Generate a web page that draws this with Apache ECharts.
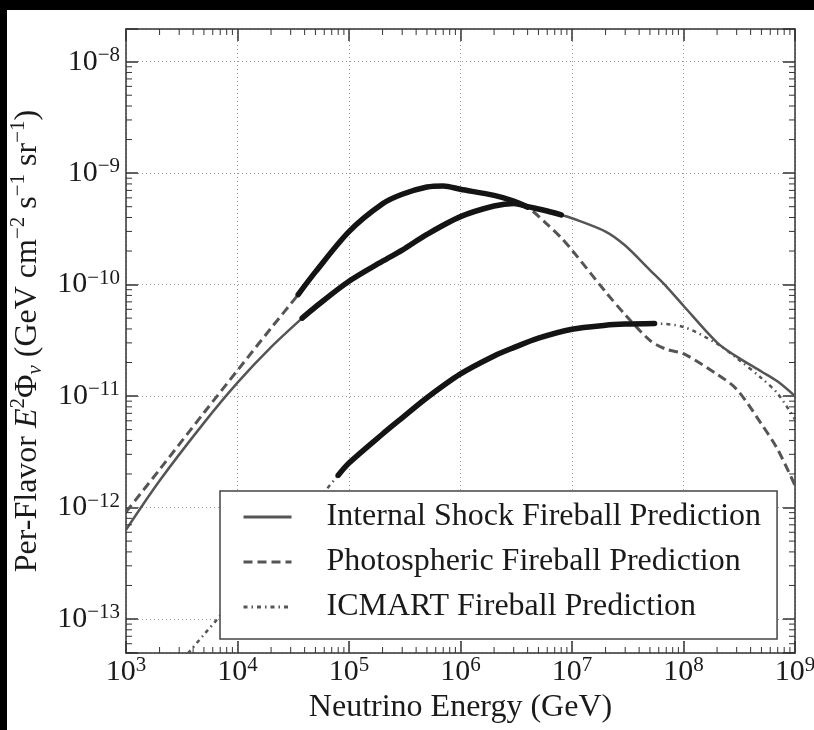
<!DOCTYPE html>
<html>
<head>
<meta charset="utf-8">
<script src="https://cdn.jsdelivr.net/npm/echarts@6/dist/echarts.min.js"></script>
<style>
  html, body { margin: 0; padding: 0; background: #000; }
  #chart { position: absolute; left: 7px; top: 10px; width: 807px; height: 720px; background: #fff; }
</style>
</head>
<body>
<div id="chart"></div>
<script>
// Neutrino energy (GeV) and per-flavor E^2 Phi (GeV cm^-2 s^-1 sr^-1) for each fireball model
const isEnergy = [1e3, 2e3, 5e3, 1e4, 2e4, 3.8e4, 5e4, 1e5, 2e5, 3e5, 5e5, 1e6, 2e6, 3e6, 4e6, 6e6, 8e6, 1e7, 2e7, 3e7, 5e7, 7e7, 1e8, 2e8, 3e8, 5e8, 7e8, 1e9];
const isFlux   = [6.31e-13, 1.74e-12, 5.75e-12, 1.32e-11, 2.75e-11, 5.0e-11, 6.3e-11, 1.07e-10, 1.62e-10, 2.04e-10, 2.82e-10, 4.07e-10, 5.07e-10, 5.35e-10, 5.01e-10, 4.57e-10, 4.22e-10, 3.94e-10, 2.99e-10, 2.24e-10, 1.35e-10, 9.66e-11, 6.46e-11, 3.02e-11, 2.26e-11, 1.66e-11, 1.35e-11, 1.0e-11];

const phEnergy = [1e3, 2e3, 5e3, 1e4, 2e4, 3.5e4, 5e4, 1e5, 2e5, 3e5, 5e5, 7e5, 1e6, 2e6, 3e6, 4e6, 6e6, 8e6, 1e7, 2e7, 3e7, 5e7, 7e7, 1e8, 2e8, 3e8, 5e8, 7e8, 1e9];
const phFlux   = [9.12e-13, 2.19e-12, 7.08e-12, 1.70e-11, 4.07e-11, 8.13e-11, 1.30e-10, 2.99e-10, 5.31e-10, 6.46e-10, 7.50e-10, 7.67e-10, 7.16e-10, 6.31e-10, 5.62e-10, 4.95e-10, 3.47e-10, 2.63e-10, 2.04e-10, 8.61e-11, 5.37e-11, 3.16e-11, 2.63e-11, 2.40e-11, 1.57e-11, 1.15e-11, 5.62e-12, 3.31e-12, 1.58e-12];

const icEnergy = [3e3, 5e3, 1e4, 2e4, 5e4, 8e4, 1e5, 2e5, 3e5, 5e5, 1e6, 2e6, 3e6, 5e6, 1e7, 2e7, 3e7, 5.5e7, 1e8, 2e8, 3e8, 5e8, 7e8, 1e9];
const icFlux   = [3.98e-14, 7.24e-14, 1.62e-13, 3.72e-13, 1.10e-12, 1.95e-12, 2.51e-12, 4.57e-12, 6.38e-12, 9.66e-12, 1.58e-11, 2.29e-11, 2.72e-11, 3.31e-11, 3.98e-11, 4.32e-11, 4.42e-11, 4.47e-11, 4.17e-11, 2.95e-11, 2.19e-11, 1.45e-11, 1.05e-11, 6.17e-12];

// Energy windows (GeV) drawn as heavy segments on each curve
const isBand = [3.8e4, 8e6];
const phBand = [3.5e4, 4e6];
const icBand = [8e4, 5.5e7];

const seriesNames = ['Internal Shock Fireball Prediction', 'Photospheric Fireball Prediction', 'ICMART Fireball Prediction'];

// Axis ranges in decades
const xRange = [3, 9];
const yRange = [-13.305, -7.707];

const SERIF = '"Liberation Serif", "DejaVu Serif", serif';
const INK = '#1a1a1a';
const FRAME = '#333';

function toPoints(energy, flux) {
  return energy.map((e, i) => [Math.log10(e), Math.log10(flux[i])]);
}
function inBand(energy, flux, band) {
  const pts = [];
  energy.forEach((e, i) => { if (e >= band[0] && e <= band[1]) pts.push([Math.log10(e), Math.log10(flux[i])]); });
  return pts;
}
function isWhole(v) { return Math.abs(v - Math.round(v)) < 1e-6; }

const powRich = {
  b: { fontFamily: SERIF, fontSize: 30, color: INK, lineHeight: 34 },
  s: { fontFamily: SERIF, fontSize: 21, color: INK, lineHeight: 20, verticalAlign: 'top' }
};

// log-spaced minor ticks on all four sides
function minorTicks(params, api) {
  const kids = [];
  const st = { stroke: FRAME, lineWidth: 1 };
  for (let d = Math.floor(xRange[0]); d < xRange[1]; d++) {
    for (let k = 2; k <= 9; k++) {
      const v = d + Math.log10(k);
      if (v <= xRange[0] || v >= xRange[1]) continue;
      const b = api.coord([v, yRange[0]]);
      const t = api.coord([v, yRange[1]]);
      kids.push({ type: 'line', shape: { x1: b[0], y1: b[1], x2: b[0], y2: b[1] - 6 }, style: st });
      kids.push({ type: 'line', shape: { x1: t[0], y1: t[1], x2: t[0], y2: t[1] + 6 }, style: st });
    }
  }
  for (let d = Math.floor(yRange[0]); d < yRange[1]; d++) {
    for (let k = 2; k <= 9; k++) {
      const v = d + Math.log10(k);
      if (v <= yRange[0] || v >= yRange[1]) continue;
      const l = api.coord([xRange[0], v]);
      const r = api.coord([xRange[1], v]);
      kids.push({ type: 'line', shape: { x1: l[0], y1: l[1], x2: l[0] + 6, y2: l[1] }, style: st });
      kids.push({ type: 'line', shape: { x1: r[0], y1: r[1], x2: r[0] - 6, y2: r[1] }, style: st });
    }
  }
  return { type: 'group', children: kids };
}

const thin = '#555';
const heavy = '#141414';
const SMOOTH = 0.3;

const axisCommon = {
  type: 'value',
  axisLine: { show: true, onZero: false, lineStyle: { color: FRAME, width: 1.5 } },
  axisTick: { show: true, inside: true, length: 12, lineStyle: { color: FRAME, width: 1.5 } }
};

const chart = echarts.init(document.getElementById('chart'), null, { renderer: 'canvas' });
chart.setOption({
  animation: false,
  backgroundColor: '#fff',
  grid: { left: 119, top: 19, width: 669, height: 624, containLabel: false, outerBoundsMode: 'none' },
  xAxis: [
    Object.assign({}, axisCommon, {
      min: xRange[0], max: xRange[1], interval: 1, position: 'bottom',
      name: 'Neutrino Energy (GeV)', nameLocation: 'middle', nameGap: 37,
      nameTextStyle: { fontFamily: SERIF, fontSize: 32, color: INK },
      splitLine: { show: true, lineStyle: { color: '#999', width: 1, type: [1, 3] } },
      axisLabel: {
        margin: 2,
        formatter: v => isWhole(v) ? '{b|10}{s|' + Math.round(v) + '}' : '',
        rich: powRich
      }
    }),
    Object.assign({}, axisCommon, {
      min: xRange[0], max: xRange[1], interval: 1, position: 'top',
      splitLine: { show: false }, axisLabel: { show: false }
    })
  ],
  yAxis: [
    Object.assign({}, axisCommon, {
      min: yRange[0], max: yRange[1], splitNumber: 5, position: 'left',
      name: 'Per-Flavor {it|E}{sup|2}Φ{sub|ν} (GeV cm{sup|−2} s{sup|−1} sr{sup|−1})',
      nameLocation: 'middle', nameGap: 71, nameRotate: 90,
      nameTextStyle: {
        fontFamily: SERIF, fontSize: 32, color: INK, lineHeight: 38,
        rich: {
          it: { fontFamily: SERIF, fontSize: 32, fontStyle: 'italic', color: INK, lineHeight: 38 },
          sup: { fontFamily: SERIF, fontSize: 21, color: INK, lineHeight: 22, verticalAlign: 'top' },
          sub: { fontFamily: SERIF, fontSize: 21, fontStyle: 'italic', color: INK, lineHeight: 24, verticalAlign: 'bottom' }
        }
      },
      splitLine: { show: true, lineStyle: { color: '#999', width: 1, type: [1, 3] } },
      axisLabel: {
        margin: 6,
        formatter: v => isWhole(v) ? '{b|10}{s|−' + Math.round(-v) + '}' : '',
        rich: powRich
      }
    }),
    Object.assign({}, axisCommon, {
      min: yRange[0], max: yRange[1], splitNumber: 5, position: 'right',
      splitLine: { show: false }, axisLabel: { show: false }
    })
  ],
  legend: {
    data: seriesNames,
    orient: 'vertical',
    left: 213, top: 481,
    padding: [9, 16, 15, 22],
    itemWidth: 48, itemHeight: 14, itemGap: 11,
    backgroundColor: '#fff', borderColor: '#444', borderWidth: 1.5, borderRadius: 0,
    selectedMode: false,
    lineStyle: { width: 3 },
    itemStyle: { color: 'rgba(0,0,0,0)', borderColor: 'rgba(0,0,0,0)', borderWidth: 0 },
    textStyle: { fontFamily: SERIF, fontSize: 32, color: INK, lineHeight: 34, padding: [0, 0, 0, 30] },
    z: 10
  },
  series: [
    {
      name: seriesNames[0], type: 'line', data: toPoints(isEnergy, isFlux),
      smooth: SMOOTH, symbol: 'none', color: thin,
      lineStyle: { color: thin, width: 2.5 }, z: 2
    },
    {
      name: seriesNames[1], type: 'line', data: toPoints(phEnergy, phFlux),
      smooth: SMOOTH, symbol: 'none', color: thin,
      lineStyle: { color: thin, width: 3, type: [9, 5] }, z: 2
    },
    {
      name: seriesNames[2], type: 'line', data: toPoints(icEnergy, icFlux),
      smooth: SMOOTH, symbol: 'none', color: thin,
      lineStyle: { color: thin, width: 2.5, type: [4, 4, 1.5, 4] }, z: 2
    },
    {
      type: 'line', data: inBand(isEnergy, isFlux, isBand), smooth: SMOOTH,
      symbol: 'none', lineStyle: { color: heavy, width: 5.5, cap: 'round' }, z: 3
    },
    {
      type: 'line', data: inBand(phEnergy, phFlux, phBand), smooth: SMOOTH,
      symbol: 'none', lineStyle: { color: heavy, width: 5.5, cap: 'round' }, z: 3
    },
    {
      type: 'line', data: inBand(icEnergy, icFlux, icBand), smooth: SMOOTH,
      symbol: 'none', lineStyle: { color: heavy, width: 5.5, cap: 'round' }, z: 3
    },
    {
      type: 'custom', silent: true, renderItem: minorTicks, data: [[xRange[0], yRange[0]]],
      clip: false, z: 4
    }
  ]
});
</script>
</body>
</html>
